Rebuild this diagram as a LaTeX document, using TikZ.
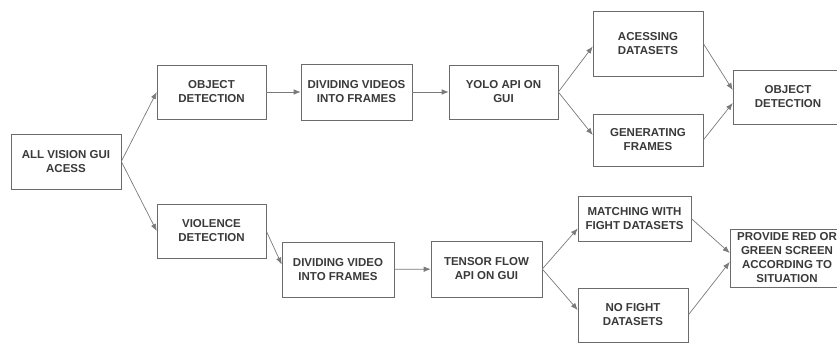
\documentclass[tikz,border=0pt]{standalone}
\usepackage{fontspec}
\setmainfont{Liberation Sans}
\usepackage{xcolor}
\usetikzlibrary{arrows.meta,shadows}
\definecolor{boxgray}{HTML}{6B6B6B}
\definecolor{linegray}{HTML}{7A7A7A}
\definecolor{textgray}{HTML}{3A3A3A}
\definecolor{shadegray}{HTML}{C8C8C8}

\begin{document}
\begin{tikzpicture}[
  x=1pt,y=1pt,
  >={Latex[length=7pt,width=5.5pt]},
  box/.style={draw=boxgray,fill=white,line width=.6pt,align=center,
    inner sep=1pt,text=textgray,
    drop shadow={shadow xshift=1.2pt,shadow yshift=-1.2pt,fill=shadegray,opacity=1}},
  link/.style={linegray,line width=.7pt,->},
  every node/.style={font=\fontsize{11.5}{14}\selectfont\bfseries}
]
  \useasboundingbox (0,0) rectangle (837,345);
  \clip (0,0) rectangle (837,345);
  % upper branch
  \node[box,minimum width=110,minimum height=55] (all) at (66,183.5) {ALL VISION GUI\\ACESS};
  \node[box,minimum width=109,minimum height=54] (objdet) at (211.5,253) {OBJECT\\DETECTION};
  \node[box,minimum width=111,minimum height=56] (divvids) at (356.5,253) {DIVIDING VIDEOS\\INTO FRAMES};
  \node[box,minimum width=109,minimum height=54] (yolo) at (503.5,253) {YOLO API ON\\GUI};
  \node[box,minimum width=110,minimum height=65] (access) at (648,301.5) {ACESSING\\DATASETS};
  \node[box,minimum width=110,minimum height=52] (gen) at (648,205) {GENERATING\\FRAMES};
  \node[box,minimum width=110,minimum height=54] (objout) at (788,248) {OBJECT\\DETECTION};
  % lower branch
  \node[box,minimum width=109,minimum height=54] (violdet) at (211.5,114) {VIOLENCE\\DETECTION};
  \node[box,minimum width=112,minimum height=55] (divvid) at (338,75.5) {DIVIDING VIDEO\\INTO FRAMES};
  \node[box,minimum width=111,minimum height=56] (tensor) at (486.5,76) {TENSOR FLOW\\API ON GUI};
  \node[box,minimum width=113,minimum height=45] (match) at (634.5,126.5) {MATCHING WITH\\FIGHT DATASETS};
  \node[box,minimum width=110,minimum height=54] (nofight) at (633,30) {NO FIGHT\\DATASETS};
  \node[box,minimum width=114,minimum height=58] (provide) at (787,87) {PROVIDE RED OR\\GREEN SCREEN\\ACCORDING TO\\SITUATION};

  \draw[link] (all.east) -- (objdet.west);
  \draw[link] (all.east) -- (violdet.west);
  \draw[link] (objdet) -- (divvids);
  \draw[link] (divvids) -- (yolo);
  \draw[link] (yolo.east) -- ([yshift=-3]access.west);
  \draw[link] (yolo.east) -- ([yshift=5]gen.west);
  \draw[link] (access.east) -- ([yshift=7]objout.west);
  \draw[link] (gen.east) -- ([yshift=-6]objout.west);
  \draw[link] (violdet.east) -- ([yshift=5]divvid.west);
  \draw[link] (divvid) -- (tensor);
  \draw[link] (tensor.east) -- ([yshift=-10]match.west);
  \draw[link] (tensor.east) -- ([yshift=5]nofight.west);
  \draw[link] (match.east) -- ([yshift=5]provide.west);
  \draw[link] (nofight.east) -- ([yshift=-4]provide.west);
\end{tikzpicture}
\end{document}
